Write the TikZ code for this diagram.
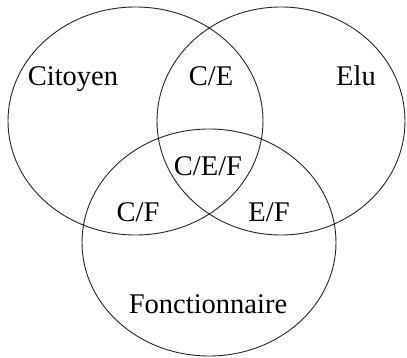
\documentclass[tikz,border=0pt]{standalone}
\usepackage{fontspec}
\setmainfont{Liberation Serif}
\begin{document}
\begin{tikzpicture}[x=1pt,y=-1pt,
  set/.style={draw=black!85, line width=0.9pt},
  lbl/.style={anchor=base, inner sep=0pt, font=\fontsize{28.5}{30}\selectfont}]
\useasboundingbox (0,0) rectangle (407,358);
% the three sets
\draw[set] (135.5,121) ellipse [x radius=127.5, y radius=114];
\draw[set] (281,121) ellipse [x radius=124, y radius=114];
\draw[set] (209,242.5) ellipse [x radius=127, y radius=113.5];
% region labels
\node[lbl] (cit) at (73,86) {Citoyen};
\node[lbl] (ce) at (211,86) {C/E};
\node[lbl] (elu) at (356,86) {Elu};
\node[lbl] (cef) at (208,176) {C/E/F};
\node[lbl] (cf) at (138,222) {C/F};
\node[lbl] (ef) at (269,222) {E/F};
\node[lbl] (fon) at (208,313) {Fonctionnaire};
\end{tikzpicture}
\end{document}
